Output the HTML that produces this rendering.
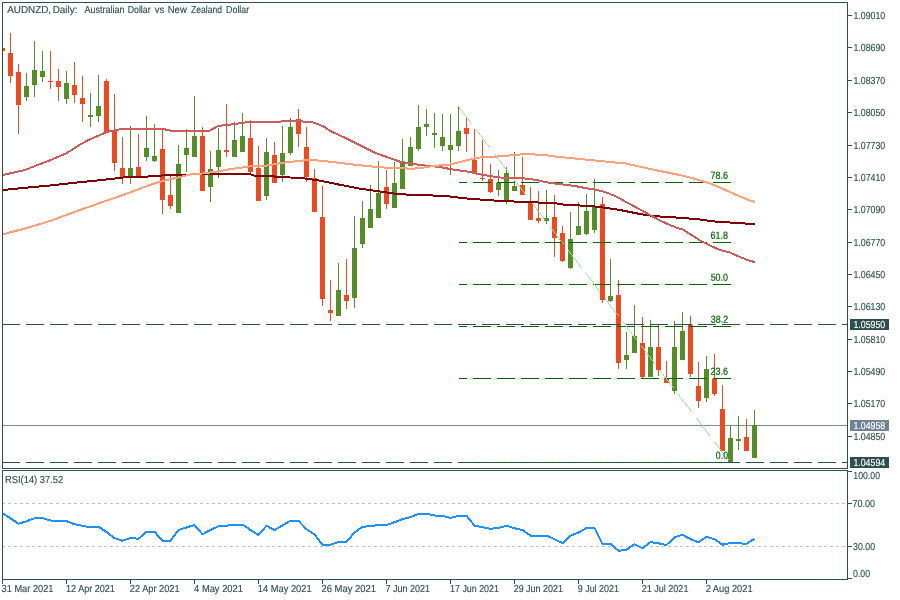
<!DOCTYPE html><html><head><meta charset="utf-8"><title>AUDNZD Daily</title><style>html,body{margin:0;padding:0;background:#fff;width:900px;height:600px;overflow:hidden}</style></head><body><svg width="900" height="600" viewBox="0 0 900 600" style="display:block;position:absolute;left:0;top:0;will-change:transform" font-family="Liberation Sans, sans-serif">
<rect x="0" y="0" width="900" height="600" fill="#fff"/>
<g shape-rendering="crispEdges">
<line x1="2" y1="503.5" x2="847" y2="503.5" stroke="#C0C0C0" stroke-width="1" stroke-dasharray="3 3"/>
<line x1="2" y1="546.5" x2="847" y2="546.5" stroke="#C0C0C0" stroke-width="1" stroke-dasharray="3 3"/>
<rect x="3" y="425" width="844" height="1" fill="#7A8BA0"/>
</g>
<defs><filter id="nf" x="0" y="0" width="900" height="600" filterUnits="userSpaceOnUse"><feOffset dx="0" dy="0"/></filter><clipPath id="fc"><rect x="459" y="0" width="272" height="600"/></clipPath></defs>
<g shape-rendering="crispEdges">
<rect x="3" y="48" width="2" height="3" fill="#EE4A22"/>
<rect x="10" y="33" width="1" height="50" fill="#EE4A22"/>
<rect x="8" y="53" width="5" height="23" fill="#EE4A22"/>
<rect x="18" y="64" width="1" height="70" fill="#EE4A22"/>
<rect x="16" y="72" width="5" height="33" fill="#EE4A22"/>
<rect x="26" y="73" width="1" height="28" fill="#558D28"/>
<rect x="24" y="86" width="5" height="11" fill="#558D28"/>
<rect x="34" y="41" width="1" height="56" fill="#558D28"/>
<rect x="32" y="70" width="5" height="15" fill="#558D28"/>
<rect x="42" y="51" width="1" height="31" fill="#558D28"/>
<rect x="40" y="71" width="5" height="6" fill="#558D28"/>
<rect x="50" y="51" width="1" height="38" fill="#EE4A22"/>
<rect x="48" y="81" width="5" height="1" fill="#EE4A22"/>
<rect x="58" y="69" width="1" height="32" fill="#EE4A22"/>
<rect x="56" y="81" width="5" height="6" fill="#EE4A22"/>
<rect x="66" y="71" width="1" height="33" fill="#558D28"/>
<rect x="64" y="83" width="5" height="16" fill="#558D28"/>
<rect x="74" y="62" width="1" height="41" fill="#EE4A22"/>
<rect x="72" y="85" width="5" height="10" fill="#EE4A22"/>
<rect x="82" y="76" width="1" height="46" fill="#EE4A22"/>
<rect x="80" y="98" width="5" height="6" fill="#EE4A22"/>
<rect x="90" y="93" width="1" height="34" fill="#558D28"/>
<rect x="88" y="115" width="5" height="2" fill="#558D28"/>
<rect x="98" y="75" width="1" height="47" fill="#558D28"/>
<rect x="96" y="106" width="5" height="10" fill="#558D28"/>
<rect x="106" y="79" width="1" height="53" fill="#EE4A22"/>
<rect x="104" y="81" width="5" height="51" fill="#EE4A22"/>
<rect x="114" y="94" width="1" height="77" fill="#EE4A22"/>
<rect x="112" y="131" width="5" height="32" fill="#EE4A22"/>
<rect x="122" y="137" width="1" height="47" fill="#EE4A22"/>
<rect x="120" y="168" width="5" height="10" fill="#EE4A22"/>
<rect x="130" y="126" width="1" height="58" fill="#558D28"/>
<rect x="128" y="168" width="5" height="8" fill="#558D28"/>
<rect x="138" y="134" width="1" height="44" fill="#EE4A22"/>
<rect x="136" y="167" width="5" height="11" fill="#EE4A22"/>
<rect x="146" y="116" width="1" height="45" fill="#558D28"/>
<rect x="144" y="148" width="5" height="9" fill="#558D28"/>
<rect x="154" y="124" width="1" height="38" fill="#558D28"/>
<rect x="152" y="156" width="5" height="5" fill="#558D28"/>
<rect x="162" y="129" width="1" height="85" fill="#EE4A22"/>
<rect x="160" y="149" width="5" height="51" fill="#EE4A22"/>
<rect x="170" y="176" width="1" height="33" fill="#EE4A22"/>
<rect x="168" y="195" width="5" height="11" fill="#EE4A22"/>
<rect x="178" y="145" width="1" height="68" fill="#558D28"/>
<rect x="176" y="164" width="5" height="49" fill="#558D28"/>
<rect x="186" y="129" width="1" height="43" fill="#558D28"/>
<rect x="184" y="148" width="5" height="7" fill="#558D28"/>
<rect x="194" y="96" width="1" height="61" fill="#558D28"/>
<rect x="192" y="136" width="5" height="21" fill="#558D28"/>
<rect x="202" y="127" width="1" height="64" fill="#EE4A22"/>
<rect x="200" y="136" width="5" height="55" fill="#EE4A22"/>
<rect x="210" y="151" width="1" height="51" fill="#558D28"/>
<rect x="208" y="169" width="5" height="18" fill="#558D28"/>
<rect x="218" y="128" width="1" height="50" fill="#558D28"/>
<rect x="216" y="150" width="5" height="17" fill="#558D28"/>
<rect x="226" y="104" width="1" height="53" fill="#EE4A22"/>
<rect x="224" y="150" width="5" height="2" fill="#EE4A22"/>
<rect x="234" y="122" width="1" height="35" fill="#558D28"/>
<rect x="232" y="140" width="5" height="17" fill="#558D28"/>
<rect x="242" y="113" width="1" height="39" fill="#558D28"/>
<rect x="240" y="136" width="5" height="16" fill="#558D28"/>
<rect x="250" y="120" width="1" height="53" fill="#EE4A22"/>
<rect x="248" y="138" width="5" height="34" fill="#EE4A22"/>
<rect x="258" y="146" width="1" height="55" fill="#EE4A22"/>
<rect x="256" y="168" width="5" height="33" fill="#EE4A22"/>
<rect x="266" y="138" width="1" height="62" fill="#558D28"/>
<rect x="264" y="152" width="5" height="44" fill="#558D28"/>
<rect x="274" y="142" width="1" height="41" fill="#EE4A22"/>
<rect x="272" y="155" width="5" height="28" fill="#EE4A22"/>
<rect x="282" y="126" width="1" height="56" fill="#558D28"/>
<rect x="280" y="153" width="5" height="22" fill="#558D28"/>
<rect x="290" y="118" width="1" height="37" fill="#558D28"/>
<rect x="288" y="127" width="5" height="26" fill="#558D28"/>
<rect x="298" y="109" width="1" height="38" fill="#EE4A22"/>
<rect x="296" y="119" width="5" height="15" fill="#EE4A22"/>
<rect x="306" y="127" width="1" height="55" fill="#EE4A22"/>
<rect x="304" y="147" width="5" height="30" fill="#EE4A22"/>
<rect x="314" y="169" width="1" height="43" fill="#EE4A22"/>
<rect x="312" y="178" width="5" height="34" fill="#EE4A22"/>
<rect x="322" y="186" width="1" height="120" fill="#EE4A22"/>
<rect x="320" y="217" width="5" height="82" fill="#EE4A22"/>
<rect x="330" y="280" width="1" height="41" fill="#EE4A22"/>
<rect x="328" y="310" width="5" height="3" fill="#EE4A22"/>
<rect x="338" y="263" width="1" height="53" fill="#558D28"/>
<rect x="336" y="290" width="5" height="26" fill="#558D28"/>
<rect x="346" y="259" width="1" height="50" fill="#EE4A22"/>
<rect x="344" y="295" width="5" height="6" fill="#EE4A22"/>
<rect x="354" y="216" width="1" height="92" fill="#558D28"/>
<rect x="352" y="248" width="5" height="50" fill="#558D28"/>
<rect x="362" y="201" width="1" height="47" fill="#558D28"/>
<rect x="360" y="218" width="5" height="26" fill="#558D28"/>
<rect x="370" y="185" width="1" height="43" fill="#558D28"/>
<rect x="368" y="209" width="5" height="19" fill="#558D28"/>
<rect x="378" y="161" width="1" height="57" fill="#558D28"/>
<rect x="376" y="193" width="5" height="25" fill="#558D28"/>
<rect x="386" y="170" width="1" height="39" fill="#EE4A22"/>
<rect x="384" y="187" width="5" height="17" fill="#EE4A22"/>
<rect x="394" y="162" width="1" height="46" fill="#558D28"/>
<rect x="392" y="183" width="5" height="25" fill="#558D28"/>
<rect x="402" y="139" width="1" height="50" fill="#558D28"/>
<rect x="400" y="162" width="5" height="27" fill="#558D28"/>
<rect x="410" y="137" width="1" height="29" fill="#558D28"/>
<rect x="408" y="147" width="5" height="19" fill="#558D28"/>
<rect x="418" y="105" width="1" height="46" fill="#558D28"/>
<rect x="416" y="127" width="5" height="22" fill="#558D28"/>
<rect x="426" y="109" width="1" height="27" fill="#558D28"/>
<rect x="424" y="124" width="5" height="3" fill="#558D28"/>
<rect x="434" y="113" width="1" height="35" fill="#558D28"/>
<rect x="432" y="133" width="5" height="2" fill="#558D28"/>
<rect x="442" y="114" width="1" height="37" fill="#558D28"/>
<rect x="440" y="137" width="5" height="9" fill="#558D28"/>
<rect x="450" y="114" width="1" height="61" fill="#558D28"/>
<rect x="448" y="145" width="5" height="5" fill="#558D28"/>
<rect x="458" y="106" width="1" height="45" fill="#558D28"/>
<rect x="456" y="131" width="5" height="15" fill="#558D28"/>
<rect x="466" y="118" width="1" height="34" fill="#EE4A22"/>
<rect x="464" y="128" width="5" height="6" fill="#EE4A22"/>
<rect x="474" y="129" width="1" height="43" fill="#EE4A22"/>
<rect x="472" y="160" width="5" height="12" fill="#EE4A22"/>
<rect x="482" y="140" width="1" height="41" fill="#EE4A22"/>
<rect x="480" y="178" width="5" height="1" fill="#EE4A22"/>
<rect x="490" y="164" width="1" height="29" fill="#EE4A22"/>
<rect x="488" y="179" width="5" height="13" fill="#EE4A22"/>
<rect x="498" y="170" width="1" height="26" fill="#558D28"/>
<rect x="496" y="183" width="5" height="7" fill="#558D28"/>
<rect x="506" y="167" width="1" height="37" fill="#558D28"/>
<rect x="504" y="173" width="5" height="27" fill="#558D28"/>
<rect x="514" y="152" width="1" height="39" fill="#558D28"/>
<rect x="512" y="186" width="5" height="5" fill="#558D28"/>
<rect x="522" y="157" width="1" height="38" fill="#EE4A22"/>
<rect x="520" y="185" width="5" height="10" fill="#EE4A22"/>
<rect x="530" y="187" width="1" height="33" fill="#EE4A22"/>
<rect x="528" y="203" width="5" height="17" fill="#EE4A22"/>
<rect x="538" y="191" width="1" height="32" fill="#EE4A22"/>
<rect x="536" y="218" width="5" height="3" fill="#EE4A22"/>
<rect x="546" y="190" width="1" height="34" fill="#558D28"/>
<rect x="544" y="218" width="5" height="3" fill="#558D28"/>
<rect x="554" y="195" width="1" height="62" fill="#EE4A22"/>
<rect x="552" y="217" width="5" height="21" fill="#EE4A22"/>
<rect x="562" y="226" width="1" height="36" fill="#EE4A22"/>
<rect x="560" y="233" width="5" height="28" fill="#EE4A22"/>
<rect x="570" y="212" width="1" height="57" fill="#558D28"/>
<rect x="568" y="239" width="5" height="29" fill="#558D28"/>
<rect x="578" y="202" width="1" height="33" fill="#558D28"/>
<rect x="576" y="226" width="5" height="9" fill="#558D28"/>
<rect x="586" y="194" width="1" height="41" fill="#558D28"/>
<rect x="584" y="211" width="5" height="23" fill="#558D28"/>
<rect x="594" y="179" width="1" height="54" fill="#558D28"/>
<rect x="592" y="207" width="5" height="23" fill="#558D28"/>
<rect x="602" y="197" width="1" height="106" fill="#EE4A22"/>
<rect x="600" y="204" width="5" height="96" fill="#EE4A22"/>
<rect x="610" y="259" width="1" height="43" fill="#558D28"/>
<rect x="608" y="296" width="5" height="5" fill="#558D28"/>
<rect x="618" y="280" width="1" height="89" fill="#EE4A22"/>
<rect x="616" y="295" width="5" height="68" fill="#EE4A22"/>
<rect x="626" y="332" width="1" height="37" fill="#558D28"/>
<rect x="624" y="355" width="5" height="5" fill="#558D28"/>
<rect x="634" y="305" width="1" height="48" fill="#558D28"/>
<rect x="632" y="336" width="5" height="17" fill="#558D28"/>
<rect x="642" y="317" width="1" height="61" fill="#EE4A22"/>
<rect x="640" y="343" width="5" height="34" fill="#EE4A22"/>
<rect x="650" y="320" width="1" height="57" fill="#558D28"/>
<rect x="648" y="347" width="5" height="30" fill="#558D28"/>
<rect x="658" y="325" width="1" height="51" fill="#EE4A22"/>
<rect x="656" y="347" width="5" height="23" fill="#EE4A22"/>
<rect x="666" y="361" width="1" height="22" fill="#EE4A22"/>
<rect x="664" y="378" width="5" height="5" fill="#EE4A22"/>
<rect x="674" y="321" width="1" height="73" fill="#558D28"/>
<rect x="672" y="347" width="5" height="44" fill="#558D28"/>
<rect x="682" y="312" width="1" height="48" fill="#558D28"/>
<rect x="680" y="331" width="5" height="29" fill="#558D28"/>
<rect x="690" y="316" width="1" height="61" fill="#EE4A22"/>
<rect x="688" y="325" width="5" height="49" fill="#EE4A22"/>
<rect x="698" y="362" width="1" height="46" fill="#EE4A22"/>
<rect x="696" y="386" width="5" height="15" fill="#EE4A22"/>
<rect x="706" y="356" width="1" height="46" fill="#558D28"/>
<rect x="704" y="369" width="5" height="29" fill="#558D28"/>
<rect x="714" y="354" width="1" height="42" fill="#EE4A22"/>
<rect x="712" y="379" width="5" height="15" fill="#EE4A22"/>
<rect x="722" y="385" width="1" height="66" fill="#EE4A22"/>
<rect x="720" y="409" width="5" height="42" fill="#EE4A22"/>
<rect x="730" y="426" width="1" height="36" fill="#558D28"/>
<rect x="728" y="438" width="5" height="24" fill="#558D28"/>
<rect x="738" y="416" width="1" height="34" fill="#558D28"/>
<rect x="736" y="439" width="5" height="2" fill="#558D28"/>
<rect x="746" y="419" width="1" height="32" fill="#EE4A22"/>
<rect x="744" y="437" width="5" height="14" fill="#EE4A22"/>
<rect x="754" y="410" width="1" height="48" fill="#558D28"/>
<rect x="752" y="425" width="5" height="33" fill="#558D28"/>
</g>
<g shape-rendering="crispEdges">
<line x1="449" y1="182.5" x2="731" y2="182.5" stroke="#006400" stroke-width="1" stroke-dasharray="18 6" clip-path="url(#fc)"/>
<line x1="449" y1="242.5" x2="731" y2="242.5" stroke="#006400" stroke-width="1" stroke-dasharray="18 6" clip-path="url(#fc)"/>
<line x1="449" y1="284.5" x2="731" y2="284.5" stroke="#006400" stroke-width="1" stroke-dasharray="18 6" clip-path="url(#fc)"/>
<line x1="449" y1="326.5" x2="731" y2="326.5" stroke="#006400" stroke-width="1" stroke-dasharray="18 6" clip-path="url(#fc)"/>
<line x1="449" y1="378.5" x2="731" y2="378.5" stroke="#006400" stroke-width="1" stroke-dasharray="18 6" clip-path="url(#fc)"/>
<line x1="449" y1="462.5" x2="731" y2="462.5" stroke="#006400" stroke-width="1" stroke-dasharray="18 6" clip-path="url(#fc)"/>
<line x1="2" y1="324.5" x2="847" y2="324.5" stroke="#2F4F4F" stroke-width="1" stroke-dasharray="18 6"/>
<line x1="2" y1="462.5" x2="847" y2="462.5" stroke="#2F4F4F" stroke-width="1" stroke-dasharray="18 6"/>
</g>
<g shape-rendering="crispEdges" fill="#90EE90">
<rect x="458" y="106" width="1" height="1"/>
<rect x="459" y="107" width="1" height="2"/>
<rect x="460" y="109" width="1" height="1"/>
<rect x="461" y="110" width="1" height="1"/>
<rect x="462" y="111" width="1" height="2"/>
<rect x="463" y="113" width="1" height="1"/>
<rect x="464" y="114" width="1" height="1"/>
<rect x="465" y="115" width="1" height="1"/>
<rect x="466" y="116" width="1" height="2"/>
<rect x="467" y="118" width="1" height="1"/>
<rect x="468" y="119" width="1" height="1"/>
<rect x="469" y="120" width="1" height="2"/>
<rect x="470" y="122" width="1" height="1"/>
<rect x="471" y="123" width="1" height="1"/>
<rect x="476" y="130" width="1" height="1"/>
<rect x="477" y="131" width="1" height="1"/>
<rect x="478" y="132" width="1" height="1"/>
<rect x="479" y="133" width="1" height="2"/>
<rect x="480" y="135" width="1" height="1"/>
<rect x="481" y="136" width="1" height="1"/>
<rect x="482" y="137" width="1" height="2"/>
<rect x="483" y="139" width="1" height="1"/>
<rect x="484" y="140" width="1" height="1"/>
<rect x="485" y="141" width="1" height="2"/>
<rect x="486" y="143" width="1" height="1"/>
<rect x="487" y="144" width="1" height="1"/>
<rect x="488" y="145" width="1" height="2"/>
<rect x="489" y="147" width="1" height="1"/>
<rect x="495" y="154" width="1" height="2"/>
<rect x="496" y="156" width="1" height="1"/>
<rect x="497" y="157" width="1" height="1"/>
<rect x="498" y="158" width="1" height="2"/>
<rect x="499" y="160" width="1" height="1"/>
<rect x="500" y="161" width="1" height="1"/>
<rect x="501" y="162" width="1" height="2"/>
<rect x="502" y="164" width="1" height="1"/>
<rect x="503" y="165" width="1" height="1"/>
<rect x="504" y="166" width="1" height="2"/>
<rect x="505" y="168" width="1" height="1"/>
<rect x="506" y="169" width="1" height="1"/>
<rect x="507" y="170" width="1" height="1"/>
<rect x="508" y="171" width="1" height="1"/>
<rect x="513" y="178" width="1" height="1"/>
<rect x="514" y="179" width="1" height="2"/>
<rect x="515" y="181" width="1" height="1"/>
<rect x="516" y="182" width="1" height="1"/>
<rect x="517" y="183" width="1" height="2"/>
<rect x="518" y="185" width="1" height="1"/>
<rect x="519" y="186" width="1" height="1"/>
<rect x="520" y="187" width="1" height="1"/>
<rect x="521" y="188" width="1" height="2"/>
<rect x="522" y="190" width="1" height="1"/>
<rect x="523" y="191" width="1" height="1"/>
<rect x="524" y="192" width="1" height="2"/>
<rect x="525" y="194" width="1" height="1"/>
<rect x="526" y="195" width="1" height="1"/>
<rect x="531" y="202" width="1" height="1"/>
<rect x="532" y="203" width="1" height="1"/>
<rect x="533" y="204" width="1" height="1"/>
<rect x="534" y="205" width="1" height="2"/>
<rect x="535" y="207" width="1" height="1"/>
<rect x="536" y="208" width="1" height="1"/>
<rect x="537" y="209" width="1" height="2"/>
<rect x="538" y="211" width="1" height="1"/>
<rect x="539" y="212" width="1" height="1"/>
<rect x="540" y="213" width="1" height="2"/>
<rect x="541" y="215" width="1" height="1"/>
<rect x="542" y="216" width="1" height="1"/>
<rect x="543" y="217" width="1" height="2"/>
<rect x="544" y="219" width="1" height="1"/>
<rect x="550" y="226" width="1" height="2"/>
<rect x="551" y="228" width="1" height="1"/>
<rect x="552" y="229" width="1" height="1"/>
<rect x="553" y="230" width="1" height="2"/>
<rect x="554" y="232" width="1" height="1"/>
<rect x="555" y="233" width="1" height="1"/>
<rect x="556" y="234" width="1" height="2"/>
<rect x="557" y="236" width="1" height="1"/>
<rect x="558" y="237" width="1" height="1"/>
<rect x="559" y="238" width="1" height="2"/>
<rect x="560" y="240" width="1" height="1"/>
<rect x="561" y="241" width="1" height="1"/>
<rect x="562" y="242" width="1" height="1"/>
<rect x="563" y="243" width="1" height="1"/>
<rect x="568" y="250" width="1" height="1"/>
<rect x="569" y="251" width="1" height="2"/>
<rect x="570" y="253" width="1" height="1"/>
<rect x="571" y="254" width="1" height="1"/>
<rect x="572" y="255" width="1" height="2"/>
<rect x="573" y="257" width="1" height="1"/>
<rect x="574" y="258" width="1" height="1"/>
<rect x="575" y="259" width="1" height="1"/>
<rect x="576" y="260" width="1" height="2"/>
<rect x="577" y="262" width="1" height="1"/>
<rect x="578" y="263" width="1" height="1"/>
<rect x="579" y="264" width="1" height="2"/>
<rect x="580" y="266" width="1" height="1"/>
<rect x="581" y="267" width="1" height="1"/>
<rect x="586" y="274" width="1" height="1"/>
<rect x="587" y="275" width="1" height="1"/>
<rect x="588" y="276" width="1" height="1"/>
<rect x="589" y="277" width="1" height="2"/>
<rect x="590" y="279" width="1" height="1"/>
<rect x="591" y="280" width="1" height="1"/>
<rect x="592" y="281" width="1" height="2"/>
<rect x="593" y="283" width="1" height="1"/>
<rect x="594" y="284" width="1" height="1"/>
<rect x="595" y="285" width="1" height="2"/>
<rect x="596" y="287" width="1" height="1"/>
<rect x="597" y="288" width="1" height="1"/>
<rect x="598" y="289" width="1" height="2"/>
<rect x="599" y="291" width="1" height="1"/>
<rect x="605" y="298" width="1" height="2"/>
<rect x="606" y="300" width="1" height="1"/>
<rect x="607" y="301" width="1" height="1"/>
<rect x="608" y="302" width="1" height="2"/>
<rect x="609" y="304" width="1" height="1"/>
<rect x="610" y="305" width="1" height="1"/>
<rect x="611" y="306" width="1" height="2"/>
<rect x="612" y="308" width="1" height="1"/>
<rect x="613" y="309" width="1" height="1"/>
<rect x="614" y="310" width="1" height="2"/>
<rect x="615" y="312" width="1" height="1"/>
<rect x="616" y="313" width="1" height="1"/>
<rect x="617" y="314" width="1" height="1"/>
<rect x="618" y="315" width="1" height="1"/>
<rect x="623" y="322" width="1" height="1"/>
<rect x="624" y="323" width="1" height="2"/>
<rect x="625" y="325" width="1" height="1"/>
<rect x="626" y="326" width="1" height="1"/>
<rect x="627" y="327" width="1" height="2"/>
<rect x="628" y="329" width="1" height="1"/>
<rect x="629" y="330" width="1" height="1"/>
<rect x="630" y="331" width="1" height="1"/>
<rect x="631" y="332" width="1" height="2"/>
<rect x="632" y="334" width="1" height="1"/>
<rect x="633" y="335" width="1" height="1"/>
<rect x="634" y="336" width="1" height="2"/>
<rect x="635" y="338" width="1" height="1"/>
<rect x="636" y="339" width="1" height="1"/>
<rect x="641" y="346" width="1" height="1"/>
<rect x="642" y="347" width="1" height="1"/>
<rect x="643" y="348" width="1" height="1"/>
<rect x="644" y="349" width="1" height="2"/>
<rect x="645" y="351" width="1" height="1"/>
<rect x="646" y="352" width="1" height="1"/>
<rect x="647" y="353" width="1" height="2"/>
<rect x="648" y="355" width="1" height="1"/>
<rect x="649" y="356" width="1" height="1"/>
<rect x="650" y="357" width="1" height="2"/>
<rect x="651" y="359" width="1" height="1"/>
<rect x="652" y="360" width="1" height="1"/>
<rect x="653" y="361" width="1" height="2"/>
<rect x="654" y="363" width="1" height="1"/>
<rect x="660" y="370" width="1" height="2"/>
<rect x="661" y="372" width="1" height="1"/>
<rect x="662" y="373" width="1" height="1"/>
<rect x="663" y="374" width="1" height="2"/>
<rect x="664" y="376" width="1" height="1"/>
<rect x="665" y="377" width="1" height="1"/>
<rect x="666" y="378" width="1" height="2"/>
<rect x="667" y="380" width="1" height="1"/>
<rect x="668" y="381" width="1" height="1"/>
<rect x="669" y="382" width="1" height="2"/>
<rect x="670" y="384" width="1" height="1"/>
<rect x="671" y="385" width="1" height="1"/>
<rect x="672" y="386" width="1" height="1"/>
<rect x="673" y="387" width="1" height="1"/>
<rect x="678" y="394" width="1" height="1"/>
<rect x="679" y="395" width="1" height="2"/>
<rect x="680" y="397" width="1" height="1"/>
<rect x="681" y="398" width="1" height="1"/>
<rect x="682" y="399" width="1" height="2"/>
<rect x="683" y="401" width="1" height="1"/>
<rect x="684" y="402" width="1" height="1"/>
<rect x="685" y="403" width="1" height="1"/>
<rect x="686" y="404" width="1" height="2"/>
<rect x="687" y="406" width="1" height="1"/>
<rect x="688" y="407" width="1" height="1"/>
<rect x="689" y="408" width="1" height="2"/>
<rect x="690" y="410" width="1" height="1"/>
<rect x="691" y="411" width="1" height="1"/>
<rect x="696" y="418" width="1" height="1"/>
<rect x="697" y="419" width="1" height="1"/>
<rect x="698" y="420" width="1" height="1"/>
<rect x="699" y="421" width="1" height="2"/>
<rect x="700" y="423" width="1" height="1"/>
<rect x="701" y="424" width="1" height="1"/>
<rect x="702" y="425" width="1" height="2"/>
<rect x="703" y="427" width="1" height="1"/>
<rect x="704" y="428" width="1" height="1"/>
<rect x="705" y="429" width="1" height="2"/>
<rect x="706" y="431" width="1" height="1"/>
<rect x="707" y="432" width="1" height="1"/>
<rect x="708" y="433" width="1" height="2"/>
<rect x="709" y="435" width="1" height="1"/>
<rect x="715" y="442" width="1" height="2"/>
<rect x="716" y="444" width="1" height="1"/>
<rect x="717" y="445" width="1" height="1"/>
<rect x="718" y="446" width="1" height="2"/>
<rect x="719" y="448" width="1" height="1"/>
<rect x="720" y="449" width="1" height="1"/>
<rect x="721" y="450" width="1" height="2"/>
<rect x="722" y="452" width="1" height="1"/>
<rect x="723" y="453" width="1" height="1"/>
<rect x="724" y="454" width="1" height="2"/>
<rect x="725" y="456" width="1" height="1"/>
<rect x="726" y="457" width="1" height="1"/>
<rect x="727" y="458" width="1" height="1"/>
<rect x="728" y="459" width="1" height="1"/>
</g>
<g shape-rendering="crispEdges">
<polyline fill="none" stroke="#800000" stroke-width="2" stroke-linejoin="round" points="3,190 25,187.8 50,185.5 75,182.7 100,180.2 125,177.3 133,177 146,177 150,176.1 161,176.1 163,174.7 190,174.5 250,174.3 254,175.5 272,176 276,176.8 290,177.5 300,177.7 320,180.7 340,184.8 360,188.7 380,191.5 400,194.3 430,195.3 450,196.5 460,197.8 470,198.8 480,199.5 490,200.3 500,200.8 510,201.3 520,201.8 530,202.2 540,202.6 553,202.8 563,204.5 580,205.5 595,206.5 600,207 610,208.5 620,210 630,212 640,214 650,215.5 660,216.5 670,217 680,217.8 690,218.6 700,219.5 710,221 720,222 730,222.5 740,223 750,224 755,224"/>
<polyline fill="none" stroke="#CD5C5C" stroke-width="2" stroke-linejoin="round" points="3,175 25,170 40,164 50,160.3 60,156 66,153.5 70,151 74,148.6 80,144.5 90,139.3 100,135 106,132.5 110,131.3 116,130 122,129 130,128.7 162,128.7 170,130.5 210,130.5 218,126 235,124 250,121.7 280,121.7 285,120.5 300,121.3 312,122.3 318,124 325,127.3 330,130.8 345,137.8 360,145.2 375,152.7 390,158.2 400,161.7 420,165 440,167 450,169 460,170.5 470,172 480,174.3 490,176 500,177.5 510,177.6 520,178 530,179 540,180.6 545,182 555,183.5 565,184.8 575,186 585,188 595,189.5 600,190.7 605,192 610,194 615,196 620,198.5 625,201.5 630,204 640,209.5 650,215 660,220.5 670,225 680,229 683,229.5 690,234 700,240.5 705,243 710,245.5 720,250 730,252.5 740,257 750,261 755,262"/>
<polyline fill="none" stroke="#FFA07A" stroke-width="2" stroke-linejoin="round" points="3,234.2 25,228.6 50,221 75,211.8 100,203 125,194.3 150,185 160,181.7 170,179.3 180,177 188,175 190,174.5 196,174.4 200,173.7 210,172.5 220,171 230,169.2 240,167.8 250,166.4 265,165.8 285,162.5 310,159.7 330,161.7 360,165.3 380,167.3 400,168.3 413,168.7 423,167.6 433,166 450,164.5 460,162 470,159.5 474,158.5 480,157.5 490,157 500,156.3 506,156 510,155.3 520,154.5 530,154.2 540,154.8 545,155 555,156.5 565,157.5 575,158.5 585,159.5 595,160.5 605,161.5 615,162.5 625,163.3 640,166.7 655,170 670,173 680,175 690,177.5 700,180.5 710,183.5 720,187.5 730,192 740,196.5 750,200.5 755,202"/>
</g>
<polyline fill="none" stroke="#1E90FF" stroke-width="2" stroke-linejoin="round" shape-rendering="crispEdges" points="2.5,513.3 10.5,518.3 18.5,523.7 26.5,521.3 34.5,518.3 42.5,518 50.5,520.5 58.5,520.8 66.5,521.2 74.5,524.2 82.5,525.8 90.5,527.5 98.5,526.7 106.5,532 114.5,538 122.5,540.8 130.5,538 138.5,538.8 146.5,531.7 154.5,531.7 162.5,540.8 170.5,540.8 178.5,530 186.5,527.5 194.5,525 202.5,534.2 210.5,530 218.5,526.3 226.5,525.8 234.5,524.5 242.5,524.5 250.5,530 258.5,535 266.5,525.8 274.5,530 282.5,525.4 290.5,520.7 298.5,520.8 306.5,529.2 314.5,534.5 322.5,544.7 330.5,544.7 338.5,542 346.5,542 354.5,532.5 362.5,526.7 370.5,526.3 378.5,525 386.5,525 394.5,522.2 402.5,519.2 410.5,517.2 418.5,513.8 426.5,513.8 434.5,515.5 442.5,515.8 450.5,517.8 458.5,515.8 466.5,515.8 474.5,525.5 482.5,527.2 490.5,528.8 498.5,527.8 506.5,525.8 514.5,528.3 522.5,530 530.5,535.5 538.5,535.5 546.5,535.5 554.5,539.2 562.5,543.1 570.5,535.8 578.5,532.5 586.5,528 594.5,528 602.5,543.8 610.5,543.8 618.5,550.8 626.5,549.7 634.5,544.2 642.5,548.3 650.5,542.2 658.5,543.3 666.5,545 674.5,537.5 682.5,534.7 690.5,539.2 698.5,542.2 706.5,536.7 714.5,539.2 722.5,544.7 730.5,543 738.5,543.3 746.5,543.8 754.5,538.7"/>
<g shape-rendering="crispEdges" fill="#2F4F4F">
<rect x="2" y="2" width="846" height="1"/>
<rect x="2" y="2" width="1" height="467"/>
<rect x="2" y="468" width="846" height="1"/>
<rect x="847" y="2" width="1" height="467"/>
<rect x="2" y="470" width="846" height="1"/>
<rect x="2" y="470" width="1" height="110"/>
<rect x="847" y="470" width="1" height="110"/>
<rect x="2" y="579" width="846" height="1"/>
<rect x="848" y="15" width="4" height="1"/>
<rect x="848" y="47" width="4" height="1"/>
<rect x="848" y="80" width="4" height="1"/>
<rect x="848" y="112" width="4" height="1"/>
<rect x="848" y="145" width="4" height="1"/>
<rect x="848" y="177" width="4" height="1"/>
<rect x="848" y="209" width="4" height="1"/>
<rect x="848" y="242" width="4" height="1"/>
<rect x="848" y="274" width="4" height="1"/>
<rect x="848" y="306" width="4" height="1"/>
<rect x="848" y="339" width="4" height="1"/>
<rect x="848" y="371" width="4" height="1"/>
<rect x="848" y="403" width="4" height="1"/>
<rect x="848" y="436" width="4" height="1"/>
<rect x="848" y="471" width="4" height="1"/>
<rect x="848" y="503" width="4" height="1"/>
<rect x="848" y="546" width="4" height="1"/>
<rect x="848" y="578" width="4" height="1"/>
<rect x="2" y="580" width="1" height="4"/>
<rect x="66" y="580" width="1" height="4"/>
<rect x="130" y="580" width="1" height="4"/>
<rect x="194" y="580" width="1" height="4"/>
<rect x="258" y="580" width="1" height="4"/>
<rect x="322" y="580" width="1" height="4"/>
<rect x="386" y="580" width="1" height="4"/>
<rect x="450" y="580" width="1" height="4"/>
<rect x="514" y="580" width="1" height="4"/>
<rect x="578" y="580" width="1" height="4"/>
<rect x="642" y="580" width="1" height="4"/>
<rect x="706" y="580" width="1" height="4"/>
</g>
<rect x="850" y="319" width="39" height="11" fill="#2F4F4F" shape-rendering="crispEdges"/>
<rect x="850" y="420" width="39" height="11" fill="#718296" shape-rendering="crispEdges"/>
<rect x="850" y="457" width="39" height="11" fill="#2F4F4F" shape-rendering="crispEdges"/>
<g filter="url(#nf)">
<text transform="translate(7.20,12.90) rotate(0.05) scale(0.9699,1)" font-size="10.2" fill="#2F4F4F" stroke="#2F4F4F" stroke-width="0.15">AUDNZD,</text>
<text transform="translate(52.71,12.90) rotate(0.05) scale(0.9709,1)" font-size="10.2" fill="#2F4F4F" stroke="#2F4F4F" stroke-width="0.15">Daily:</text>
<text transform="translate(84.50,12.90) rotate(0.05) scale(0.8820,1)" font-size="10.2" fill="#2F4F4F" stroke="#2F4F4F" stroke-width="0.15">Australian</text>
<text transform="translate(127.70,12.90) rotate(0.05) scale(0.8602,1)" font-size="10.2" fill="#2F4F4F" stroke="#2F4F4F" stroke-width="0.15">Dollar</text>
<text transform="translate(154.80,12.90) rotate(0.05) scale(0.9299,1)" font-size="10.2" fill="#2F4F4F" stroke="#2F4F4F" stroke-width="0.15">vs</text>
<text transform="translate(167.74,12.90) rotate(0.05) scale(0.9355,1)" font-size="10.2" fill="#2F4F4F" stroke="#2F4F4F" stroke-width="0.15">New</text>
<text transform="translate(191.04,12.90) rotate(0.05) scale(0.8421,1)" font-size="10.2" fill="#2F4F4F" stroke="#2F4F4F" stroke-width="0.15">Zealand</text>
<text transform="translate(226.09,12.90) rotate(0.05) scale(0.8680,1)" font-size="10.2" fill="#2F4F4F" stroke="#2F4F4F" stroke-width="0.15">Dollar</text>
<text transform="translate(5.05,483.00) rotate(0.05) scale(0.9146,1)" font-size="10.2" fill="#2F4F4F" stroke="#2F4F4F" stroke-width="0.15">RSI(14) 37.52</text>
<text transform="translate(853.38,328.00) rotate(0.05) scale(0.8662,1)" font-size="10.2" fill="#fff" stroke="#fff" stroke-width="0.15">1.05950</text>
<text transform="translate(853.38,429.00) rotate(0.05) scale(0.8662,1)" font-size="10.2" fill="#fff" stroke="#fff" stroke-width="0.15">1.04958</text>
<text transform="translate(853.38,466.00) rotate(0.05) scale(0.8638,1)" font-size="10.2" fill="#fff" stroke="#fff" stroke-width="0.15">1.04594</text>
<text transform="translate(853.38,19.00) rotate(0.05) scale(0.8662,1)" font-size="10.2" fill="#2F4F4F" stroke="#2F4F4F" stroke-width="0.15">1.09010</text>
<text transform="translate(853.38,51.00) rotate(0.05) scale(0.8662,1)" font-size="10.2" fill="#2F4F4F" stroke="#2F4F4F" stroke-width="0.15">1.08690</text>
<text transform="translate(853.38,84.00) rotate(0.05) scale(0.8662,1)" font-size="10.2" fill="#2F4F4F" stroke="#2F4F4F" stroke-width="0.15">1.08370</text>
<text transform="translate(853.38,116.00) rotate(0.05) scale(0.8662,1)" font-size="10.2" fill="#2F4F4F" stroke="#2F4F4F" stroke-width="0.15">1.08050</text>
<text transform="translate(853.38,149.00) rotate(0.05) scale(0.8662,1)" font-size="10.2" fill="#2F4F4F" stroke="#2F4F4F" stroke-width="0.15">1.07730</text>
<text transform="translate(853.38,181.00) rotate(0.05) scale(0.8662,1)" font-size="10.2" fill="#2F4F4F" stroke="#2F4F4F" stroke-width="0.15">1.07410</text>
<text transform="translate(853.38,213.00) rotate(0.05) scale(0.8662,1)" font-size="10.2" fill="#2F4F4F" stroke="#2F4F4F" stroke-width="0.15">1.07090</text>
<text transform="translate(853.38,246.00) rotate(0.05) scale(0.8662,1)" font-size="10.2" fill="#2F4F4F" stroke="#2F4F4F" stroke-width="0.15">1.06770</text>
<text transform="translate(853.38,278.00) rotate(0.05) scale(0.8662,1)" font-size="10.2" fill="#2F4F4F" stroke="#2F4F4F" stroke-width="0.15">1.06450</text>
<text transform="translate(853.38,310.00) rotate(0.05) scale(0.8662,1)" font-size="10.2" fill="#2F4F4F" stroke="#2F4F4F" stroke-width="0.15">1.06130</text>
<text transform="translate(853.38,343.00) rotate(0.05) scale(0.8662,1)" font-size="10.2" fill="#2F4F4F" stroke="#2F4F4F" stroke-width="0.15">1.05810</text>
<text transform="translate(853.38,375.00) rotate(0.05) scale(0.8662,1)" font-size="10.2" fill="#2F4F4F" stroke="#2F4F4F" stroke-width="0.15">1.05490</text>
<text transform="translate(853.38,407.00) rotate(0.05) scale(0.8662,1)" font-size="10.2" fill="#2F4F4F" stroke="#2F4F4F" stroke-width="0.15">1.05170</text>
<text transform="translate(853.38,440.00) rotate(0.05) scale(0.8662,1)" font-size="10.2" fill="#2F4F4F" stroke="#2F4F4F" stroke-width="0.15">1.04850</text>
<text transform="translate(853.29,479.00) rotate(0.05) scale(0.8567,1)" font-size="10.2" fill="#2F4F4F" stroke="#2F4F4F" stroke-width="0.15">100.00</text>
<text transform="translate(852.55,507.00) rotate(0.05) scale(0.8845,1)" font-size="10.2" fill="#2F4F4F" stroke="#2F4F4F" stroke-width="0.15">70.00</text>
<text transform="translate(853.04,550.00) rotate(0.05) scale(0.8652,1)" font-size="10.2" fill="#2F4F4F" stroke="#2F4F4F" stroke-width="0.15">30.00</text>
<text transform="translate(853.04,577.00) rotate(0.05) scale(0.8552,1)" font-size="10.2" fill="#2F4F4F" stroke="#2F4F4F" stroke-width="0.15">0.00</text>
<text transform="translate(1.62,592.00) rotate(0.05) scale(0.9045,1)" font-size="10.2" fill="#2F4F4F" stroke="#2F4F4F" stroke-width="0.15">31 Mar 2021</text>
<text transform="translate(66.07,592.00) rotate(0.05) scale(0.8880,1)" font-size="10.2" fill="#2F4F4F" stroke="#2F4F4F" stroke-width="0.15">12 Apr 2021</text>
<text transform="translate(129.84,592.00) rotate(0.05) scale(0.9048,1)" font-size="10.2" fill="#2F4F4F" stroke="#2F4F4F" stroke-width="0.15">22 Apr 2021</text>
<text transform="translate(194.11,592.00) rotate(0.05) scale(0.9178,1)" font-size="10.2" fill="#2F4F4F" stroke="#2F4F4F" stroke-width="0.15">4 May 2021</text>
<text transform="translate(257.85,592.00) rotate(0.05) scale(0.9137,1)" font-size="10.2" fill="#2F4F4F" stroke="#2F4F4F" stroke-width="0.15">14 May 2021</text>
<text transform="translate(321.43,592.00) rotate(0.05) scale(0.9277,1)" font-size="10.2" fill="#2F4F4F" stroke="#2F4F4F" stroke-width="0.15">26 May 2021</text>
<text transform="translate(385.45,592.00) rotate(0.05) scale(0.8849,1)" font-size="10.2" fill="#2F4F4F" stroke="#2F4F4F" stroke-width="0.15">7 Jun 2021</text>
<text transform="translate(450.08,592.00) rotate(0.05) scale(0.8715,1)" font-size="10.2" fill="#2F4F4F" stroke="#2F4F4F" stroke-width="0.15">17 Jun 2021</text>
<text transform="translate(513.65,592.00) rotate(0.05) scale(0.8791,1)" font-size="10.2" fill="#2F4F4F" stroke="#2F4F4F" stroke-width="0.15">29 Jun 2021</text>
<text transform="translate(577.74,592.00) rotate(0.05) scale(0.8768,1)" font-size="10.2" fill="#2F4F4F" stroke="#2F4F4F" stroke-width="0.15">9 Jul 2021</text>
<text transform="translate(641.65,592.00) rotate(0.05) scale(0.8887,1)" font-size="10.2" fill="#2F4F4F" stroke="#2F4F4F" stroke-width="0.15">21 Jul 2021</text>
<text transform="translate(705.64,592.00) rotate(0.05) scale(0.9102,1)" font-size="10.2" fill="#2F4F4F" stroke="#2F4F4F" stroke-width="0.15">2 Aug 2021</text>
<text transform="translate(710.55,178.70) rotate(0.05) scale(0.8802,1)" font-size="10.2" fill="#006400" stroke="#006400" stroke-width="0.22">78.6</text>
<text transform="translate(710.55,238.70) rotate(0.05) scale(0.8802,1)" font-size="10.2" fill="#006400" stroke="#006400" stroke-width="0.22">61.8</text>
<text transform="translate(710.64,280.70) rotate(0.05) scale(0.8755,1)" font-size="10.2" fill="#006400" stroke="#006400" stroke-width="0.22">50.0</text>
<text transform="translate(710.73,322.70) rotate(0.05) scale(0.8755,1)" font-size="10.2" fill="#006400" stroke="#006400" stroke-width="0.22">38.2</text>
<text transform="translate(710.55,374.70) rotate(0.05) scale(0.8802,1)" font-size="10.2" fill="#006400" stroke="#006400" stroke-width="0.22">23.6</text>
<text transform="translate(715.84,458.70) rotate(0.05) scale(0.8590,1)" font-size="10.2" fill="#006400" stroke="#006400" stroke-width="0.22">0.0</text>
</g>
</svg></body></html>
